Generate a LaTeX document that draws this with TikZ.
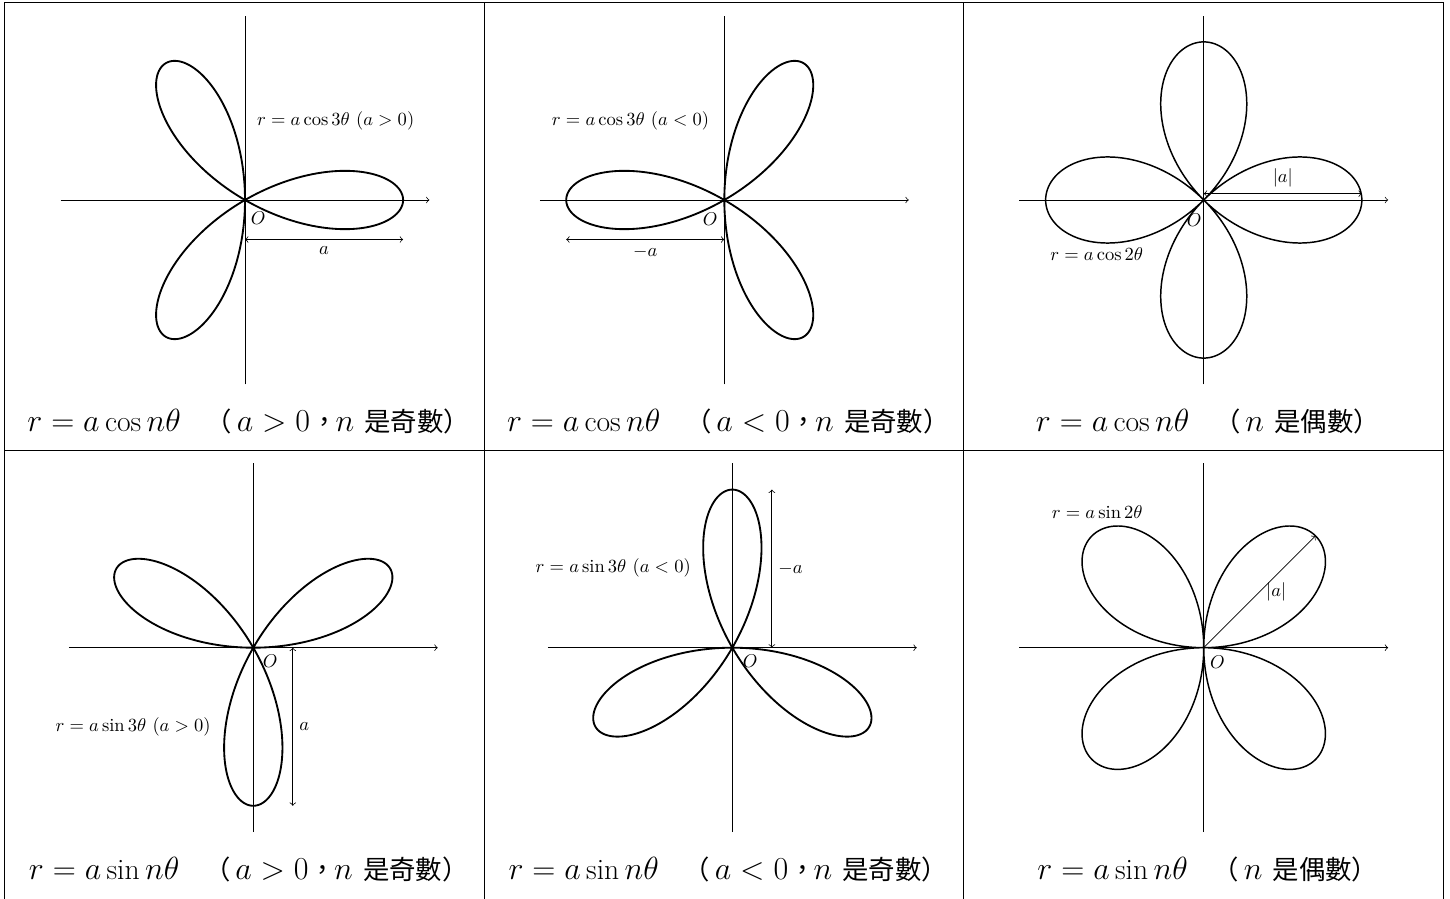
\documentclass[tikz,border=0pt]{standalone}
\usepackage{fontspec}
\newfontfamily\cjkfont{Noto Sans CJK TC}
\newcommand{\cjk}{\cjkfont\fontsize{14.24pt}{19pt}\selectfont}
\usetikzlibrary{calc,positioning}
\tikzset{
	>=to,%
	grid/.style={line width=0.4pt},%
	axis/.style={line width=0.4pt},%
	rose/.style={line width=1pt, variable=\t, samples=361, smooth},%
	thinrose/.style={rose, line width=0.8pt},%
	dim/.style={<->, line width=0.4pt},%
	captext/.style={anchor=base, font=\fontsize{16pt}{19pt}\selectfont},%
}
\newcommand{\polaraxes}{%
	\draw[axis,->] (-3.5,0) -- (3.5,0);
	\draw[axis] (0,-3.5) -- (0,3.5);}
\newcommand{\oddcap}[2]{$r=a#1 n\theta$\ \hspace{8.7pt}{\cjk （}\hspace{2.5pt}$a#2 0$\hspace{0.5pt}{\cjk ，}\hspace{-1pt}$n$ \hspace{0.7pt}{\cjk 是奇數）}}
\newcommand{\evencap}[1]{$r=a#1 n\theta$\ \hspace{8.7pt}{\cjk （}\hspace{2.5pt}$n$ \hspace{0.7pt}{\cjk 是偶數）}}

\begin{document}
\begin{tikzpicture}
	\useasboundingbox (0,0) rectangle (27.514,-17.040);
	% table
	\draw[grid] (0.082,-17.2) -- (0.082,-0.051) -- (27.382,-0.051) -- (27.382,-17.2);
	\draw[grid] (9.182,-17.2) -- (9.182,-0.051);
	\draw[grid] (18.282,-17.2) -- (18.282,-0.051);
	\draw[grid] (0.082,-8.551) -- (27.382,-8.551);

	% a cos 3t, a>0
	\begin{scope}[shift={(4.649,-3.795)}]
		\polaraxes
		\coordinate (o1) at (0,0);
		\draw[rose] plot[domain=0:180] ({3*cos(3*\t)*cos(\t)},{3*cos(3*\t)*sin(\t)});
		\node (olbl1) at (0.25,-0.35) {$O$};
		\node (eq1) at (1.72,1.50) {$r=a\cos3\theta$ $(a>0)$};
		\coordinate (d1a) at (0,-0.75);
		\coordinate (d1b) at (3,-0.75);
		\draw[dim] (d1a) -- node[below] (len1) {$a$} (d1b);
	\end{scope}

	% a cos 3t, a<0
	\begin{scope}[shift={(13.744,-3.795)}]
		\polaraxes
		\coordinate (o2) at (0,0);
		\draw[rose] plot[domain=0:180] ({-3*cos(3*\t)*cos(\t)},{-3*cos(3*\t)*sin(\t)});
		\node (olbl2) at (-0.27,-0.37) {$O$};
		\node (eq2) at (-1.78,1.50) {$r=a\cos3\theta$ $(a<0)$};
		\coordinate (d2a) at (-3,-0.75);
		\coordinate (d2b) at (0,-0.75);
		\draw[dim] (d2a) -- node[below] (len2) {$-a$} (d2b);
	\end{scope}

	% a cos 2t
	\begin{scope}[shift={(22.841,-3.795)}]
		\polaraxes
		\coordinate (o3) at (0,0);
		\draw[thinrose] plot[domain=0:360] ({3*cos(2*\t)*cos(\t)},{3*cos(2*\t)*sin(\t)});
		\node (olbl3) at (-0.18,-0.38) {$O$};
		\node (eq3) at (-2.03,-1.02) {$r=a\cos2\theta$};
		\coordinate (d3a) at (0,0.12);
		\coordinate (d3b) at (3,0.12);
		\draw[dim] (d3a) -- node[above] (len3) {$|a|$} (d3b);
	\end{scope}

	% a sin 3t, a>0
	\begin{scope}[shift={(4.806,-12.290)}]
		\polaraxes
		\coordinate (o4) at (0,0);
		\draw[rose] plot[domain=0:180] ({3*sin(3*\t)*cos(\t)},{3*sin(3*\t)*sin(\t)});
		\node (olbl4) at (0.32,-0.25) {$O$};
		\node (eq4) at (-2.28,-1.51) {$r=a\sin3\theta$ $(a>0)$};
		\coordinate (d4a) at (0.75,0);
		\coordinate (d4b) at (0.75,-3);
		\draw[dim] (d4a) -- node[right] (len4) {$a$} (d4b);
	\end{scope}

	% a sin 3t, a<0
	\begin{scope}[shift={(13.896,-12.290)}]
		\polaraxes
		\coordinate (o5) at (0,0);
		\draw[rose] plot[domain=0:180] ({-3*sin(3*\t)*cos(\t)},{-3*sin(3*\t)*sin(\t)});
		\node (olbl5) at (0.34,-0.25) {$O$};
		\node (eq5) at (-2.26,1.51) {$r=a\sin3\theta$ $(a<0)$};
		\coordinate (d5a) at (0.75,0);
		\coordinate (d5b) at (0.75,3);
		\draw[dim] (d5a) -- node[right] (len5) {$-a$} (d5b);
	\end{scope}

	% a sin 2t
	\begin{scope}[shift={(22.841,-12.290)}]
		\polaraxes
		\coordinate (o6) at (0,0);
		\draw[thinrose] plot[domain=0:360] ({3*sin(2*\t)*cos(\t)},{3*sin(2*\t)*sin(\t)});
		\node (olbl6) at (0.26,-0.27) {$O$};
		\node (eq6) at (-2.02,2.58) {$r=a\sin2\theta$};
		\coordinate (d6b) at (45:3);
		\draw[->, line width=0.4pt] (o6) -- node[right] (len6) {$|a|$} (d6b);
	\end{scope}

	% captions
	\node[captext] (title1) at (4.72,-8.192) {\oddcap{\cos}{>}};
	\node[captext] (title2) at (13.82,-8.192) {\oddcap{\cos}{<}};
	\node[captext] (title3) at (22.92,-8.192) {\evencap{\cos}};
	\node[captext] (title4) at (4.72,-16.69) {\oddcap{\sin}{>}};
	\node[captext] (title5) at (13.82,-16.69) {\oddcap{\sin}{<}};
	\node[captext] (title6) at (22.92,-16.69) {\evencap{\sin}};
\end{tikzpicture}
\end{document}
